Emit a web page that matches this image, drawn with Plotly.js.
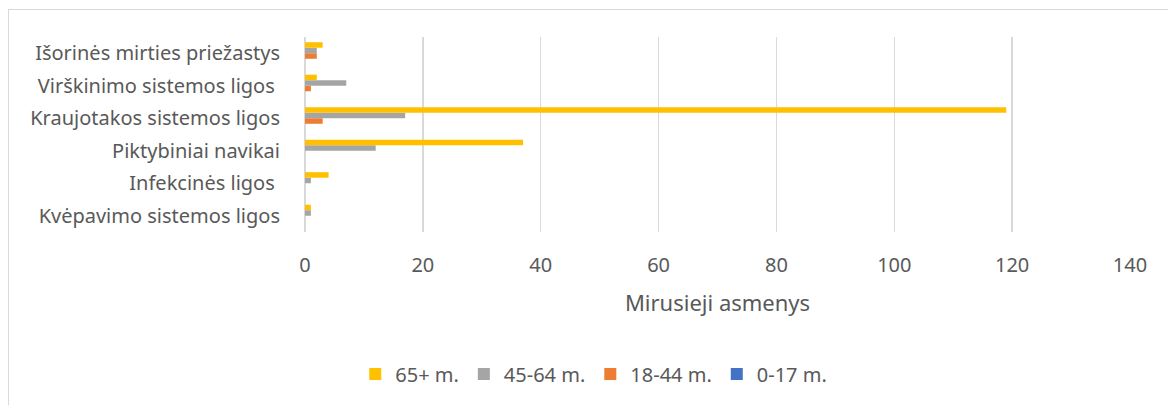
<!DOCTYPE html>
<html>
<head>
<meta charset="utf-8">
<script src="https://cdn.plot.ly/plotly-3.0.1.min.js"></script>
<style>
  html, body { margin: 0; padding: 0; background: #fff; }
  #wrap { position: relative; width: 1168px; height: 405px; overflow: hidden; }
  #chart { width: 1168px; height: 405px; }
  #frame { position: absolute; left: 8px; top: 9px; width: 1200px; height: 450px; border: 1px solid #d9d9d9; pointer-events: none; }
</style>
</head>
<body>
<div id="wrap"><div id="chart"></div><div id="frame"></div></div>
<script>
const categories = [
  "Kvėpavimo sistemos ligos",
  "Infekcinės ligos ",
  "Piktybiniai navikai",
  "Kraujotakos sistemos ligos",
  "Virškinimo sistemos ligos ",
  "Išorinės mirties priežastys"
];
const seriesNames = ["0-17 m.", "18-44 m.", "45-64 m.", "65+ m."];
const age0_17  = [0, 0, 0, 0, 0, 0];
const age18_44 = [0, 0, 0, 3, 1, 2];
const age45_64 = [1, 1, 12, 17, 7, 2];
const age65    = [1, 4, 37, 119, 2, 3];
const colors = ["#4472c4", "#ed7d31", "#a5a5a5", "#ffc000"];
const tickVals = [0, 20, 40, 60, 80, 100, 120, 140];

const values = [age0_17, age18_44, age45_64, age65];
const traces = values.map((v, i) => ({
  type: "bar",
  orientation: "h",
  name: seriesNames[i],
  y: categories,
  x: v,
  marker: { color: colors[i] },
  hoverinfo: "x+name"
}));

const layout = {
  width: 1168, height: 405,
  margin: { l: 305, r: 38, t: 37, b: 173 },
  paper_bgcolor: "#fff", plot_bgcolor: "#fff",
  barmode: "group",
  bargap: 0.32,
  bargroupgap: 0,
  font: { family: "Noto Sans, sans-serif", color: "#595959", size: 20 },
  xaxis: {
    range: [0, 140],
    tickvals: tickVals,
    showgrid: true, gridcolor: "#d9d9d9", gridwidth: 1.5,
    zeroline: true, zerolinecolor: "#d9d9d9", zerolinewidth: 1.5,
    ticks: "outside", ticklen: 15, tickcolor: "rgba(0,0,0,0)",
    tickfont: { size: 20, color: "#595959" },
    title: { text: "Mirusieji asmenys", font: { size: 22, color: "#595959" }, standoff: 18 },
    fixedrange: true
  },
  yaxis: {
    type: "category",
    categoryorder: "array", categoryarray: categories,
    showgrid: false, zeroline: false, showline: false,
    ticks: "outside", ticklen: 20, tickcolor: "rgba(0,0,0,0)",
    tickfont: { size: 20, color: "#595959" },
    fixedrange: true
  },
  showlegend: true,
  legend: {
    orientation: "h",
    traceorder: "reversed",
    x: 0.35, xanchor: "center",
    y: -0.728, yanchor: "middle",
    font: { size: 20, color: "#595959" },
    itemwidth: 30
  }
};

Plotly.newPlot("chart", traces, layout, { displayModeBar: false, staticPlot: true });
</script>
</body>
</html>
